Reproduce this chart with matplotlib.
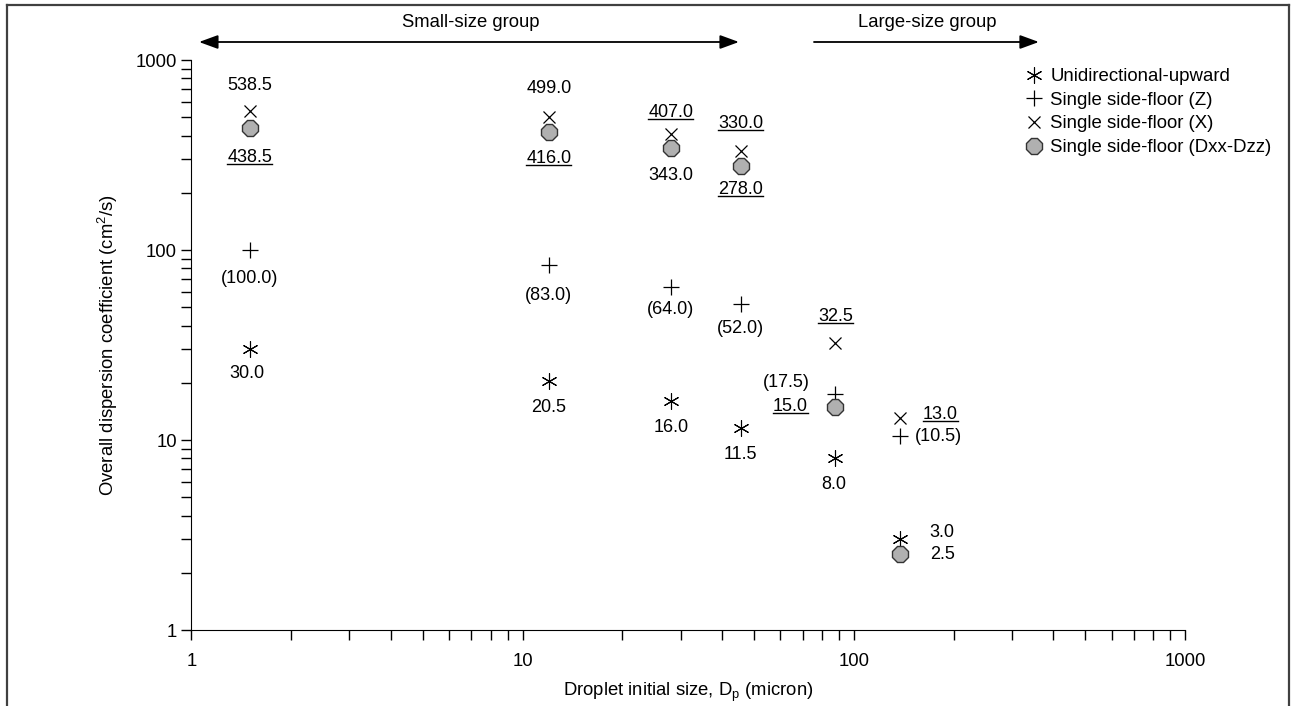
import matplotlib
matplotlib.use('Agg')
import matplotlib.pyplot as plt
from matplotlib.lines import Line2D

plt.rcParams['font.family'] = ['Liberation Sans', 'DejaVu Sans']
plt.rcParams['font.size'] = 13.3

# droplet sizes (micron)
sizes = [1.5, 12, 28, 45.5, 88, 138]

# overall dispersion coefficients (cm2/s)
upward = [30.0, 20.5, 16.0, 11.5, 8.0, 3.0]
side_z = [100.0, 83.0, 64.0, 52.0, 17.5, 10.5]
side_x = [538.5, 499.0, 407.0, 330.0, 32.5, 13.0]
side_dxx = [438.5, 416.0, 343.0, 278.0, 15.0, 2.5]

# label offsets in pixels (dx, dy up) and underline flags
upward_off = [(-3, -24), (0, -27), (0, -26), (0, -26), (-2, -26), (42, 7)]
z_off = [(0, -28), (0, -30), (0, -23), (0, -25), (-49, 11), (38, 0)]
x_off = [(0, 26), (0, 29), (0, 22), (0, 28), (0, 26), (40, 4)]
x_under = [False, False, True, True, True, True]
dxx_off = [(0, -29), (0, -26), (0, -27), (0, -24), (-45, 0), (42, 0)]
dxx_under = [True, True, False, True, True, False]

fig = plt.figure(figsize=(12.92, 7.06), dpi=100)
ax = fig.add_axes([0.1482, 0.1076, 0.769, 0.8074])

ax.plot(sizes, upward, linestyle='none', marker=(6, 2, 0), markersize=11.5,
        color='black', markeredgewidth=0.8, label='Unidirectional-upward')
ax.plot(sizes, side_z, linestyle='none', marker='+', markersize=12,
        color='black', markeredgewidth=0.9, label='Single side-floor (Z)')
ax.plot(sizes, side_x, linestyle='none', marker='x', markersize=8,
        color='black', markeredgewidth=0.9, label='Single side-floor (X)')
ax.plot(sizes, side_dxx, linestyle='none', marker='8', markersize=12,
        markerfacecolor='#b0b0b0', markeredgecolor='#333333',
        markeredgewidth=1.0, label='Single side-floor (Dxx-Dzz)')

ax.set_xscale('log')
ax.set_yscale('log')
ax.set_xlim(1, 1000)
ax.set_ylim(1, 1000)
ax.set_xticks([1, 10, 100, 1000])
ax.set_xticklabels(['1', '10', '100', '1000'])
ax.set_yticks([1, 10, 100, 1000])
ax.set_yticklabels(['1', '10', '100', '1000'])
ax.tick_params(which='both', direction='out', length=7.5, width=1.0,
               labelsize=13.3)
ax.tick_params(axis='x', pad=9)
ax.tick_params(axis='y', pad=3)
ax.spines['top'].set_visible(False)
ax.spines['right'].set_visible(False)

ax.set_xlabel('Droplet initial size, D$_\\mathregular{p}$ (micron)',
              fontsize=13.3, labelpad=8)
ax.set_ylabel('Overall dispersion coefficient (cm$^\\mathregular{2}$/s)',
              fontsize=13.3, labelpad=11)

px = 72.0 / fig.dpi
under_texts = []


def label_points(xs, ys, offs, fmt, under=None):
    for i in range(len(xs)):
        dx, dy = offs[i]
        t = ax.annotate(fmt.format(ys[i]), (xs[i], ys[i]),
                        xytext=(dx * px, dy * px), textcoords='offset points',
                        ha='center', va='center', fontsize=13)
        if under is not None and under[i]:
            under_texts.append(t)


label_points(sizes, upward, upward_off, '{:.1f}')
label_points(sizes, side_z, z_off, '({:.1f})')
label_points(sizes, side_x, x_off, '{:.1f}', x_under)
label_points(sizes, side_dxx, dxx_off, '{:.1f}', dxx_under)

# size group arrows above the plot
arr_y = 1.0316
txt_y = 1.065
ax.annotate('', xy=(44.98, arr_y), xytext=(1.054, arr_y),
            xycoords=('data', 'axes fraction'),
            arrowprops=dict(arrowstyle='<|-|>,head_length=1.15,head_width=0.42',
                            color='black', lw=1.3, shrinkA=0, shrinkB=0,
                            mutation_scale=10))
ax.annotate('', xy=(362, arr_y), xytext=(75.8, arr_y),
            xycoords=('data', 'axes fraction'),
            arrowprops=dict(arrowstyle='-|>,head_length=1.15,head_width=0.42',
                            color='black', lw=1.3, shrinkA=0, shrinkB=0,
                            mutation_scale=10))
ax.text(6.98, txt_y, 'Small-size group', transform=ax.get_xaxis_transform(),
        ha='center', va='center', fontsize=13.3)
ax.text(166.8, txt_y, 'Large-size group', transform=ax.get_xaxis_transform(),
        ha='center', va='center', fontsize=13.3)

ax.legend(loc='upper left', bbox_to_anchor=(1027 / 1292, 1 - 68 / 706),
          bbox_transform=fig.transFigure, frameon=False, fontsize=13.4,
          handlelength=0.8, handletextpad=0.45, labelspacing=0.36,
          borderpad=0, borderaxespad=0)

# figure border (left, top, right)
bc = '#404040'
fig.add_artist(Line2D([7 / 1292, 7 / 1292], [0, 1 - 5 / 706],
                      transform=fig.transFigure, color=bc, lw=1.6))
fig.add_artist(Line2D([7 / 1292, 1289 / 1292], [1 - 5 / 706, 1 - 5 / 706],
                      transform=fig.transFigure, color=bc, lw=1.6))
fig.add_artist(Line2D([1289 / 1292, 1289 / 1292], [0, 1 - 5 / 706],
                      transform=fig.transFigure, color=bc, lw=1.6))

# underline the marked labels
fig.canvas.draw()
renderer = fig.canvas.get_renderer()
for t in under_texts:
    bb = t.get_window_extent(renderer)
    y = (bb.y0 + 2.0) / fig.bbox.height
    fig.add_artist(Line2D([bb.x0 / fig.bbox.width, bb.x1 / fig.bbox.width],
                          [y, y], transform=fig.transFigure,
                          color='black', lw=1.0))

fig.savefig('out.png', dpi=100)
